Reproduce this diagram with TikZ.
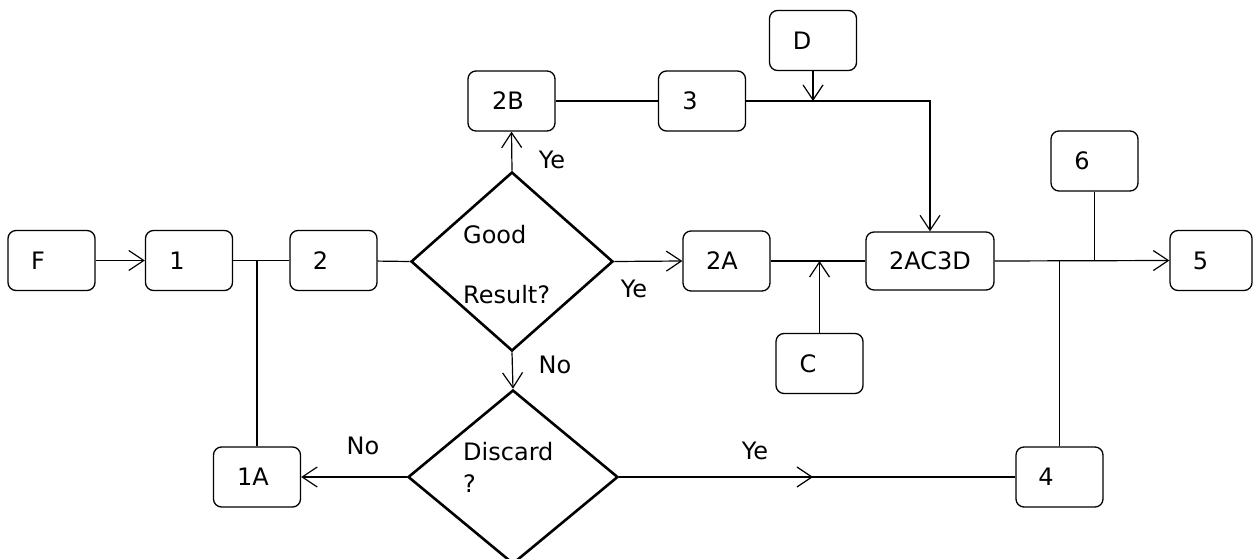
\documentclass[tikz,border=0pt]{standalone}
\usepackage{fontspec}
\setmainfont{DejaVu Sans}
\usetikzlibrary{arrows.meta,shapes.geometric}
\newcommand{\shl}[2]{#1\hspace*{#2pt}}
\begin{document}
\begin{tikzpicture}[x=1pt,y=-1pt,
  every node/.style={font=\fontsize{24}{29}\selectfont},
  box/.style={draw, rounded corners=8pt, line width=1.3pt, minimum width=87pt, minimum height=60pt, inner sep=0pt},
  dia/.style={draw, diamond, line width=2.6pt, inner sep=0pt},
  conn/.style={line width=1.2pt},
  arr/.style={conn, -{Straight Barb[length=15pt,width=20pt,line width=1.2pt]}},
  lbl/.style={inner sep=0pt}
]
\path[use as bounding box] (0,0) rectangle (1253,559);
\clip (0,0) rectangle (1253,559);

% boxes
\node[box] (nF)  at (51.5,260.5) {\shl{F}{27}};
\node[box] (n1)  at (189,260.5)  {\shl{1}{24}};
\node[box] (n2)  at (333.5,260.5){\shl{2}{26}};
\node[box] (n1A) at (257,477)    {\shl{1A}{8}};
\node[box] (n2B) at (511.5,101)  {\shl{2B}{7}};
\node[box] (n3)  at (702,101)    {\shl{3}{24}};
\node[box] (nD)  at (813,40.5)   {\shl{D}{22}};
\node[box] (n2A) at (726.5,261)  {\shl{2A}{9}};
\node[box] (nC)  at (819.5,363.5){\shl{C}{23}};
\node[box, minimum width=128pt, minimum height=58pt] (nM) at (930,261) {2AC3D};
\node[box] (n6)  at (1094.5,161) {\shl{6}{25}};
\node[box] (n4)  at (1059.5,477) {\shl{4}{27}};
\node[box, minimum width=82pt] (n5) at (1211,260.5) {\shl{5}{21}};

% diamonds
\node[dia, minimum width=202pt, minimum height=179pt] (good) at (512,261.5) {};
\node[dia, minimum width=210pt, minimum height=174pt] (disc) at (513,477) {};
\node[lbl, anchor=base west] (goodA) at (463,243) {Good};
\node[lbl, anchor=base west] (goodB) at (463,303) {Result?};
\node[lbl, anchor=base west] (discA) at (463,460) {Discard};
\node[lbl, anchor=base west] (discB) at (463,492) {?};

% labels
\node[lbl] (ye1) at (552,160) {Ye};
\node[lbl] (ye2) at (634,289) {Ye};
\node[lbl] (no1) at (555,365) {No};
\node[lbl] (no2) at (363,446) {No};
\node[lbl] (ye3) at (755,451) {Ye};

% connectors
\draw[arr] (nF) -- (n1);
\draw[conn] (n1) -- (n2);
\draw[conn] (n1A.north) -- (n1A.north |- n1.east);
\draw[conn] (n2) -- (good.west);
\draw[arr] (good.north) -- (n2B.south);
\draw[conn] (n2B) -- (n3);
\draw[arr] (n3.east) -| (nM.north);
\draw[arr] (nD.south) -- (nD.south |- n3.east);
\draw[arr] (good.east) -- (n2A.west);
\draw[conn] (n2A) -- (nM);
\draw[arr] (nC.north) -- (nC.north |- n2A.east);
\draw[arr] (nM.east) -- (n5.west);
\draw[conn] (n6.south) -- (n6.south |- n5.west);
\draw[conn] (n4.north) -- (n4.north |- n5.west);
\draw[arr] (good.south) -- (disc.north);
\draw[arr] (disc.west) -- (n1A.east);
\coordinate (ym) at (813,477);
\coordinate (ys) at (733,477);
\draw[arr] (disc.east) -- (ym);
\draw[conn] (ys) -- (n4.west);
\end{tikzpicture}
\end{document}
